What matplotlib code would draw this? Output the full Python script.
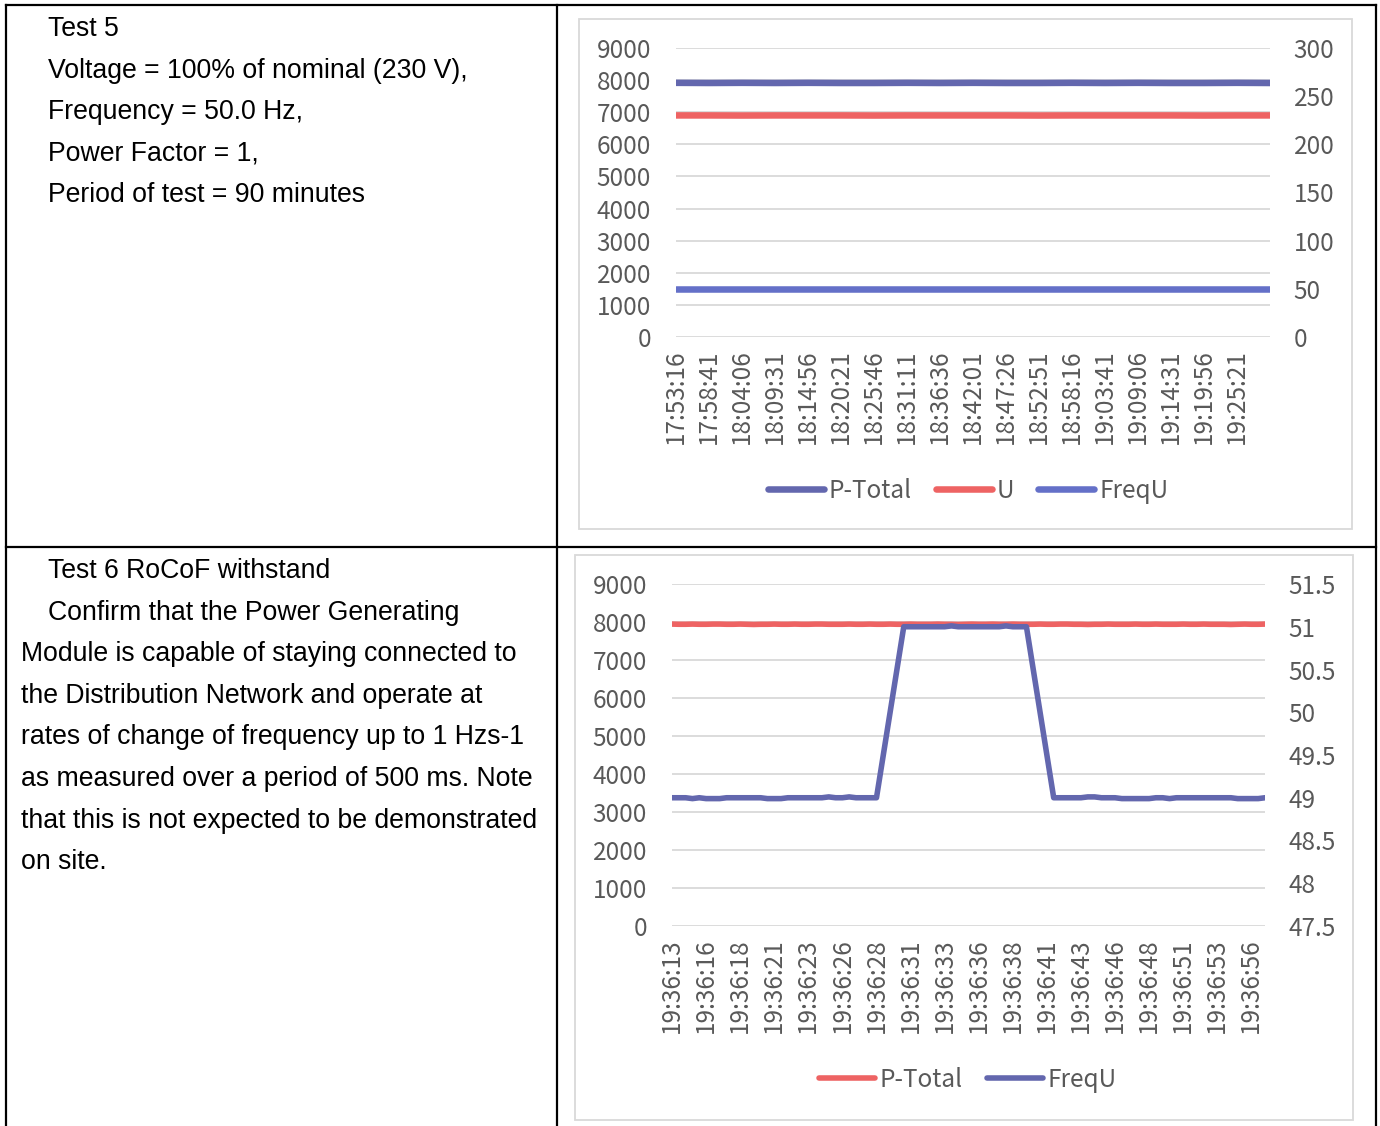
import matplotlib.pyplot as plt
from matplotlib.patches import Rectangle
from matplotlib.lines import Line2D

W, H = 1380, 1126
plt.rcParams['font.family'] = ['Noto Sans CJK SC', 'DejaVu Sans']

# ---- Test 5 data (one point per label step, plus the end point) ----
t5_times = ["17:53:16", "17:58:41", "18:04:06", "18:09:31", "18:14:56", "18:20:21",
            "18:25:46", "18:31:11", "18:36:36", "18:42:01", "18:47:26", "18:52:51",
            "18:58:16", "19:03:41", "19:09:06", "19:14:31", "19:19:56", "19:25:21"]
t5_ptotal = [7915, 7910, 7915, 7910, 7915, 7910, 7910, 7915, 7910, 7915,
             7910, 7910, 7915, 7910, 7915, 7910, 7910, 7915, 7910]
t5_u = [230.0, 230.0, 229.9, 230.0, 230.0, 230.0, 229.9, 230.0, 230.0, 230.0,
        230.0, 229.9, 230.0, 230.0, 230.0, 230.0, 229.9, 230.0, 230.0]
t5_freq = [50.0, 50.0, 50.0, 50.0, 50.0, 50.0, 50.0, 50.0, 50.0, 50.0,
           50.0, 50.0, 50.0, 50.0, 50.0, 50.0, 50.0, 50.0, 50.0]

# ---- Test 6 data (0.5 s samples, label every 5th sample) ----
t6_times = ["19:36:13", "19:36:16", "19:36:18", "19:36:21", "19:36:23", "19:36:26",
            "19:36:28", "19:36:31", "19:36:33", "19:36:36", "19:36:38", "19:36:41",
            "19:36:43", "19:36:46", "19:36:48", "19:36:51", "19:36:53", "19:36:56"]
t6_ptotal = [7945, 7940, 7940, 7945, 7940, 7940, 7945, 7945, 7940, 7940,
             7945, 7940, 7935, 7940, 7940, 7945, 7940, 7940, 7945, 7940,
             7940, 7945, 7945, 7940, 7940, 7940, 7945, 7940, 7940, 7945,
             7940, 7940, 7945, 7940, 7940, 7945, 7940, 7940, 7940, 7945,
             7940, 7940, 7935, 7940, 7945, 7940, 7940, 7945, 7940, 7940,
             7945, 7940, 7940, 7940, 7945, 7940, 7940, 7945, 7945, 7940,
             7940, 7935, 7940, 7940, 7945, 7940, 7940, 7940, 7945, 7940,
             7940, 7945, 7940, 7940, 7940, 7945, 7940, 7940, 7945, 7940,
             7940, 7940, 7935, 7940, 7945, 7940, 7940, 7945]
t6_freq = [49.00, 49.00, 49.00, 48.99, 49.00, 48.99, 48.99, 48.99, 49.00, 49.00,
           49.00, 49.00, 49.00, 49.00, 48.99, 48.99, 48.99, 49.00, 49.00, 49.00,
           49.00, 49.00, 49.00, 49.01, 49.00, 49.00, 49.01, 49.00, 49.00, 49.00,
           49.00, 49.50, 50.00, 50.50,
           51.00, 51.00, 51.00, 51.00, 51.00, 51.00, 51.00, 51.01, 51.00, 51.00,
           51.00, 51.00, 51.00, 51.00, 51.00, 51.01, 51.00, 51.00, 51.00,
           50.50, 50.00, 49.50,
           49.00, 49.00, 49.00, 49.00, 49.00, 49.01, 49.01, 49.00, 49.00, 49.00,
           48.99, 48.99, 48.99, 48.99, 48.99, 49.00, 49.00, 48.99, 49.00, 49.00,
           49.00, 49.00, 49.00, 49.00, 49.00, 49.00, 49.00, 48.99, 48.99, 48.99,
           48.99, 49.00]

t5_text = ["Test 5", "Voltage = 100% of nominal (230 V),", "Frequency = 50.0 Hz,",
           "Power Factor = 1,", "Period of test = 90 minutes"]
t6_text = ["Test 6 RoCoF withstand", "Confirm that the Power Generating",
           "Module is capable of staying connected to",
           "the Distribution Network and operate at",
           "rates of change of frequency up to 1 Hzs-1",
           "as measured over a period of 500 ms. Note",
           "that this is not expected to be demonstrated", "on site."]

RED = '#EE6363'
BLUE_DARK = '#6367AE'
BLUE = '#6470C8'
GREY = '#595959'
GRID = '#D9D9D9'
FS = 17.5


def box(x0, y0, x1, y1):
    return [x0 / W, 1 - y1 / H, (x1 - x0) / W, (y1 - y0) / H]


def hline(fig, x0, x1, y):
    fig.add_artist(Line2D([x0 / W, x1 / W], [1 - y / H, 1 - y / H], color='black', lw=1.6, zorder=5))


def vline(fig, x, y0, y1):
    fig.add_artist(Line2D([x / W, x / W], [1 - y0 / H, 1 - y1 / H], color='black', lw=1.6, zorder=5))


def frame(fig, x0, y0, x1, y1):
    fig.add_artist(Rectangle((x0 / W, 1 - y1 / H), (x1 - x0) / W, (y1 - y0) / H,
                             transform=fig.transFigure, facecolor='white',
                             edgecolor=GRID, lw=1.3, zorder=-1))


def style(ax, side):
    for s in ax.spines.values():
        s.set_visible(False)
    ax.set_facecolor('none')
    ax.tick_params(axis='both', length=0, labelsize=FS, labelcolor=GREY)
    ax.tick_params(axis='y', pad=18 if side == 'left' else 17)
    ax.tick_params(axis='x', pad=9)


fig = plt.figure(figsize=(W / 100, H / 100), dpi=100)

# table lines
hline(fig, 6, 1376, 5)
hline(fig, 6, 1376, 547)
vline(fig, 6, 5, 1126)
vline(fig, 557, 5, 1126)
vline(fig, 1376, 5, 1126)

# left column text
for i, line in enumerate(t5_text):
    fig.text(48 / W, 1 - (29 + i * 41.5) / H, line, family='Liberation Sans',
             fontsize=19.2, va='center', ha='left', color='black')
for i, line in enumerate(t6_text):
    x = 48 if i < 2 else 21
    fig.text(x / W, 1 - (571 + i * 41.6) / H, line, family='Liberation Sans',
             fontsize=19.2, va='center', ha='left', color='black')

# ---- chart 1 ----
frame(fig, 579, 19, 1352, 529)
ax = fig.add_axes(box(676, 48, 1270, 337))
ax2 = ax.twinx()
x5 = list(range(len(t5_ptotal)))
l1, = ax.plot(x5, t5_ptotal, color=BLUE_DARK, lw=4.7, solid_capstyle='round', label='P-Total')
l2, = ax2.plot(x5, t5_u, color=RED, lw=4.7, solid_capstyle='round', label='U')
l3, = ax2.plot(x5, t5_freq, color=BLUE, lw=4.7, solid_capstyle='round', label='FreqU')
ax.set_ylim(0, 9000)
ax.set_yticks(range(0, 9001, 1000))
ax2.set_ylim(0, 300)
ax2.set_yticks(range(0, 301, 50))
ax.set_xlim(0, len(t5_ptotal) - 1)
ax.set_xticks(range(len(t5_times)))
ax.set_xticklabels(t5_times, rotation=90)
ax.yaxis.grid(True, color=GRID, lw=1.3)
ax.set_axisbelow(True)
style(ax, 'left')
style(ax2, 'right')
ax.legend(handles=[l1, l2, l3], loc='center', bbox_to_anchor=(968 / W, 1 - 491 / H),
          bbox_transform=fig.transFigure, ncol=3, frameon=False, fontsize=FS,
          handlelength=2.3, handletextpad=0.2, columnspacing=1.0, labelcolor=GREY)

# ---- chart 2 ----
frame(fig, 575, 555, 1353, 1120)
bx = fig.add_axes(box(672, 584, 1265, 926))
bx2 = bx.twinx()
x6 = list(range(len(t6_ptotal)))
m1, = bx.plot(x6, t6_ptotal, color=RED, lw=4.0, solid_capstyle='round', label='P-Total')
m2, = bx2.plot(x6, t6_freq, color=BLUE_DARK, lw=4.0, solid_capstyle='round', label='FreqU')
bx.set_ylim(0, 9000)
bx.set_yticks(range(0, 9001, 1000))
bx2.set_ylim(47.5, 51.5)
bx2.set_yticks([47.5, 48, 48.5, 49, 49.5, 50, 50.5, 51, 51.5])
bx2.set_yticklabels(['47.5', '48', '48.5', '49', '49.5', '50', '50.5', '51', '51.5'])
bx.set_xlim(0, len(t6_ptotal) - 1)
bx.set_xticks(range(0, 5 * len(t6_times), 5))
bx.set_xticklabels(t6_times, rotation=90)
bx.yaxis.grid(True, color=GRID, lw=1.3)
bx.set_axisbelow(True)
style(bx, 'left')
style(bx2, 'right')
bx.legend(handles=[m1, m2], loc='center', bbox_to_anchor=(968 / W, 1 - 1080 / H),
          bbox_transform=fig.transFigure, ncol=2, frameon=False, fontsize=FS,
          handlelength=2.3, handletextpad=0.2, columnspacing=1.0, labelcolor=GREY)

fig.savefig('out.png', dpi=100)
